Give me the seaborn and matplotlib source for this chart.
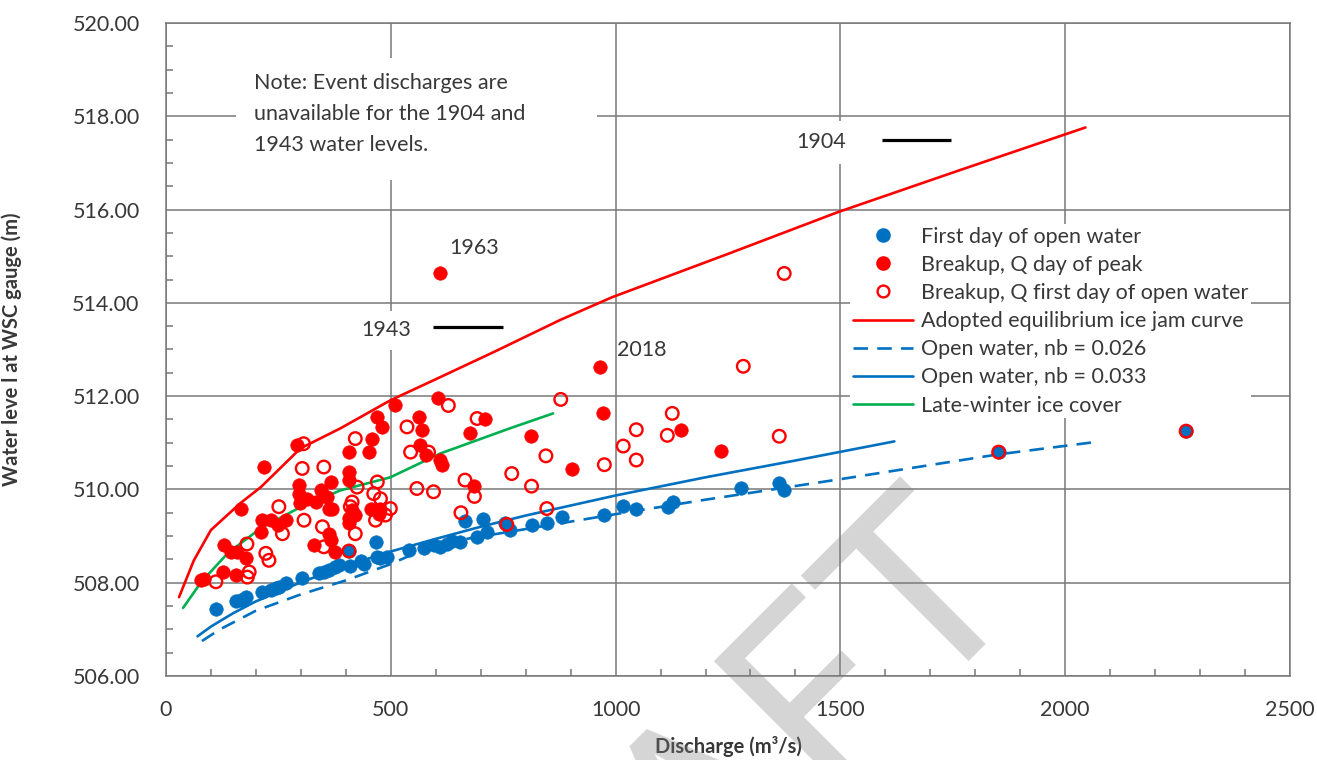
import matplotlib
matplotlib.use("Agg")
import matplotlib.pyplot as plt
from matplotlib.lines import Line2D
from matplotlib.patches import Rectangle
from matplotlib.ticker import MultipleLocator, FormatStrFormatter
import seaborn as sns

# ---- observed water levels -------------------------------------------------
open_water_q = [111, 155, 166, 177, 214, 233, 244, 251, 266, 303, 340, 351, 363, 377,
                385, 410, 407, 433, 440, 466, 470, 477, 492, 540, 574, 595, 610, 625,
                636, 654, 665, 691, 706, 713, 754, 765, 813, 847, 880, 974, 1017, 1046,
                1117, 1128, 1279, 1364, 1375, 1852, 2269]
open_water_wl = [507.43, 507.60, 507.63, 507.70, 507.80, 507.84, 507.88, 507.91, 507.99,
                 508.10, 508.20, 508.23, 508.28, 508.34, 508.37, 508.36, 508.68, 508.46,
                 508.41, 508.87, 508.55, 508.52, 508.55, 508.70, 508.75, 508.80, 508.77,
                 508.84, 508.90, 508.87, 509.32, 508.98, 509.36, 509.09, 509.27, 509.13,
                 509.23, 509.27, 509.41, 509.45, 509.64, 509.59, 509.63, 509.73, 510.02,
                 510.14, 509.98, 510.80, 511.25]

peak_q = [78, 85, 126, 129, 144, 155, 159, 166, 177, 211, 214, 218, 233, 248, 266, 292,
          296, 296, 299, 314, 329, 333, 344, 359, 363, 363, 366, 366, 370, 377, 407, 407,
          407, 407, 407, 414, 421, 451, 455, 459, 470, 473, 477, 480, 510, 562, 565, 570,
          579, 606, 610, 614, 610, 677, 684, 710, 811, 902, 965, 972, 1146, 1235]
peak_wl = [508.05, 508.09, 508.23, 508.80, 508.66, 508.16, 508.66, 509.59, 508.52, 509.09,
           509.34, 510.48, 509.34, 509.23, 509.34, 510.95, 510.09, 509.91, 509.70, 509.80,
           508.80, 509.73, 509.98, 509.84, 509.59, 509.05, 510.16, 508.91, 509.59, 508.66,
           510.80, 510.38, 510.20, 509.38, 509.27, 509.55, 509.45, 510.80, 509.59, 511.09,
           511.56, 509.48, 509.59, 511.34, 511.80, 511.56, 510.95, 511.28, 510.73, 511.95,
           510.63, 510.52, 514.63, 511.20, 510.07, 511.52, 511.14, 510.43, 512.62, 511.63,
           511.28, 510.82]

first_day_q = [111, 180, 181, 185, 222, 229, 251, 259, 303, 306, 307, 348, 351, 351, 407,
               410, 414, 421, 421, 425, 462, 466, 470, 477, 488, 499, 536, 544, 558, 584,
               595, 628, 656, 665, 686, 692, 758, 769, 813, 845, 847, 878, 975, 1017, 1046,
               1046, 1115, 1126, 1284, 1364, 1375, 1852, 2269]
first_day_wl = [508.02, 508.83, 508.12, 508.23, 508.63, 508.48, 509.63, 509.05, 510.45,
                510.98, 509.34, 509.20, 510.48, 508.77, 508.68, 509.63, 509.73, 511.09,
                509.05, 510.05, 509.91, 509.34, 510.16, 509.80, 509.45, 509.59, 511.34,
                510.80, 510.02, 510.80, 509.95, 511.80, 509.50, 510.20, 509.85, 511.52,
                509.25, 510.34, 510.07, 510.72, 509.59, 511.93, 510.53, 510.93, 511.28,
                510.63, 511.16, 511.63, 512.64, 511.14, 514.63, 510.80, 511.25]

# ---- rating / ice jam curves -----------------------------------------------
jam_q = [29, 62, 100, 166, 211, 299, 388, 499, 595, 730, 876, 992, 1250, 1493, 1764, 2045]
jam_wl = [507.69, 508.48, 509.13, 509.71, 510.05, 510.88, 511.31, 511.91, 512.34, 512.95,
          513.63, 514.12, 515.05, 515.94, 516.84, 517.76]

ice_cover_q = [38, 78, 138, 211, 299, 388, 499, 610, 765, 861]
ice_cover_wl = [507.46, 508.01, 508.64, 509.17, 509.62, 509.98, 510.26, 510.77, 511.31, 511.63]

ow026_q = [80, 120, 200, 300, 400, 500, 600, 800, 1000, 1200, 1500, 1850, 2070]
ow026_wl = [506.75, 507.00, 507.40, 507.75, 508.05, 508.40, 508.83, 509.15, 509.47,
            509.78, 510.22, 510.75, 511.02]

ow033_q = [70, 100, 150, 200, 300, 400, 500, 600, 700, 800, 1000, 1200, 1400, 1620]
ow033_wl = [506.85, 507.06, 507.35, 507.60, 508.01, 508.36, 508.67, 508.94, 509.20,
            509.44, 509.87, 510.26, 510.62, 511.03]

# ---- historic events without discharge --------------------------------------
event_labels = ["1904", "1943"]
event_q = [[1592, 1745], [594, 749]]
event_wl = [517.49, 513.48]

point_labels = ["1963", "2018"]
point_label_q = [685, 1058]
point_label_wl = [515.17, 512.98]

legend_labels = ["First day of open water", "Breakup, Q day of peak",
                 "Breakup, Q first day of open water",
                 "Adopted equilibrium ice jam curve", "Open water, nb = 0.026",
                 "Open water, nb = 0.033", "Late-winter ice cover"]

BLUE = "#0070C0"
RED = "#FF0000"
GREEN = "#00B050"
GRID = "#787878"
TEXT = "#383838"
FONT = "Lato"

sns.set_theme(style="white")
plt.rcParams["font.family"] = [FONT, "DejaVu Sans"]
plt.rcParams["text.color"] = TEXT
plt.rcParams["axes.labelcolor"] = TEXT

W, H = 1317, 760
fig = plt.figure(figsize=(W / 100, H / 100), dpi=100)
ax = fig.add_axes([166 / W, 1 - 676 / H, (1290 - 166) / W, (676 - 23) / H])

# curves
sns.lineplot(x=jam_q, y=jam_wl, ax=ax, color=RED, linewidth=1.9, sort=False,
             estimator=None, zorder=3)
sns.lineplot(x=ice_cover_q, y=ice_cover_wl, ax=ax, color=GREEN, linewidth=1.9,
             sort=False, estimator=None, zorder=3)
sns.lineplot(x=ow033_q, y=ow033_wl, ax=ax, color=BLUE, linewidth=1.9, sort=False,
             estimator=None, zorder=3)
ax.plot(ow026_q, ow026_wl, color=BLUE, linewidth=1.9, dashes=(5.5, 3.5), zorder=3)

# observations
sns.scatterplot(x=open_water_q, y=open_water_wl, ax=ax, color=BLUE, s=95,
                edgecolor=BLUE, linewidth=0.4, zorder=4, legend=False)
sns.scatterplot(x=peak_q, y=peak_wl, ax=ax, color=RED, s=95, edgecolor=RED,
                linewidth=0.4, zorder=5, legend=False)
sns.scatterplot(x=first_day_q, y=first_day_wl, ax=ax, marker="o", s=82,
                facecolor="none", edgecolor=RED, linewidth=1.7, zorder=6, legend=False)

# historic events (level only)
for q, wl in zip(event_q, event_wl):
    ax.plot(q, [wl, wl], color="black", linewidth=2.3, zorder=6, solid_capstyle="butt")

ax.text(1457, 517.44, event_labels[0], fontsize=15.5, ha="center", va="center",
        bbox=dict(boxstyle="square,pad=0.55", fc="white", ec="none"), zorder=2.5)
ax.text(490, 513.41, event_labels[1], fontsize=15.5, ha="center", va="center",
        bbox=dict(boxstyle="square,pad=0.45", fc="white", ec="none"), zorder=2.5)
for lab, q, wl in zip(point_labels, point_label_q, point_label_wl):
    ax.text(q, wl, lab, fontsize=15.5, ha="center", va="center", zorder=2.5)

# note box
ax.add_patch(Rectangle((155, 516.63), 803, 2.63, fc="white", ec="none", zorder=2.4))
ax.text(195, 518.92, "Note: Event discharges are\nunavailable for the 1904 and\n1943 water levels.",
        fontsize=15.5, ha="left", va="top", linespacing=1.68, zorder=2.5)

# axes, grid and ticks
ax.set_xlim(0, 2500)
ax.set_ylim(506, 520)
ax.xaxis.set_major_locator(MultipleLocator(500))
ax.xaxis.set_minor_locator(MultipleLocator(100))
ax.yaxis.set_major_locator(MultipleLocator(2))
ax.yaxis.set_minor_locator(MultipleLocator(0.5))
ax.yaxis.set_major_formatter(FormatStrFormatter("%.2f"))
ax.grid(True, which="major", color=GRID, linewidth=1.1, zorder=1)
ax.set_axisbelow(True)
ax.tick_params(which="major", direction="in", length=0, labelsize=15.5,
               labelcolor=TEXT)
ax.tick_params(axis="x", which="major", pad=17)
ax.tick_params(axis="y", which="major", pad=19)
ax.tick_params(which="minor", direction="in", length=5, width=1.1, color=GRID,
               bottom=True, left=True)
for sp in ax.spines.values():
    sp.set_color(GRID)
    sp.set_linewidth(1.1)

ax.set_xlabel("Discharge (m\u00b3/s)", fontsize=14.5, fontweight="bold")
ax.set_ylabel("Water leve l at WSC gauge (m)", fontsize=14.5, fontweight="bold")
ax.xaxis.set_label_coords(0.5, -0.092)
ax.yaxis.set_label_coords(-0.128, 0.5)

# legend
handles = [
    Line2D([], [], linestyle="none", marker="o", markersize=9.5, color=BLUE),
    Line2D([], [], linestyle="none", marker="o", markersize=9.5, color=RED),
    Line2D([], [], linestyle="none", marker="o", markersize=8.5, markerfacecolor="white",
           markeredgecolor=RED, markeredgewidth=1.7),
    Line2D([], [], color=RED, linewidth=1.9),
    Line2D([], [], color=BLUE, linewidth=1.9, dashes=(5.5, 3.5)),
    Line2D([], [], color=BLUE, linewidth=1.9),
    Line2D([], [], color=GREEN, linewidth=1.9),
]
leg = ax.legend(handles, legend_labels, loc="upper left",
                bbox_to_anchor=(850 / W, 1 - 224 / H), bbox_transform=fig.transFigure,
                fontsize=15.5, frameon=True, framealpha=1, facecolor="white",
                edgecolor="none", fancybox=False, handlelength=2.8, handletextpad=0.4,
                labelspacing=0.38, borderpad=0.12, borderaxespad=0)
leg.set_zorder(7)
for t in leg.get_texts():
    t.set_color(TEXT)

# watermark
fig.text(689 / W, 1 - 818 / H, "DRAFT", fontsize=180, rotation=45, ha="center",
         va="center", rotation_mode="anchor", color="#7f7f7f", alpha=0.33, zorder=20)

fig.savefig("out.png", dpi=100)
